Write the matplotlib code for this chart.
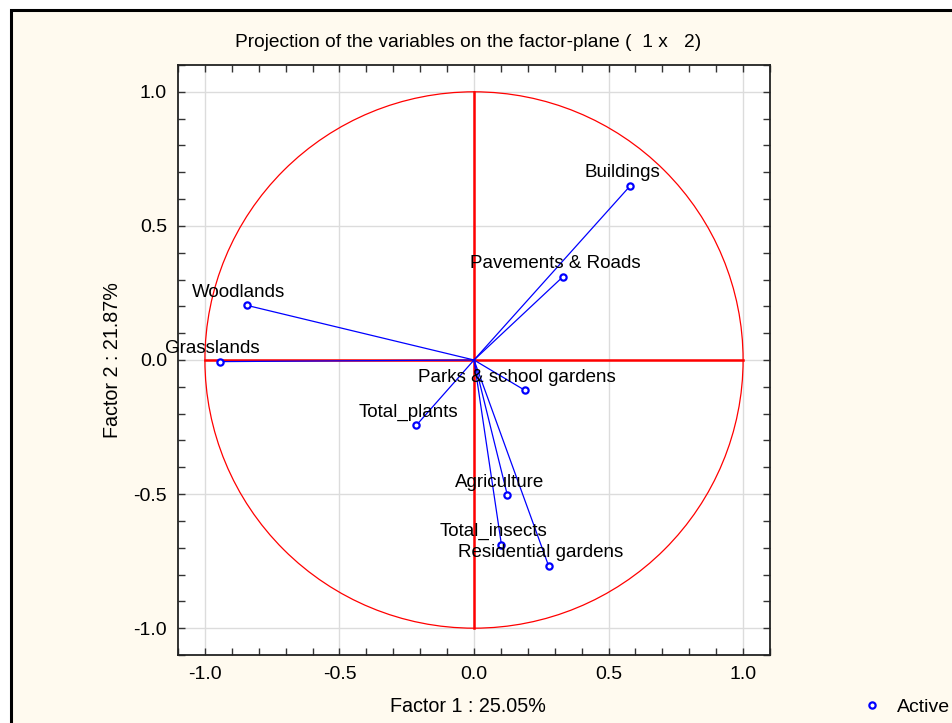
import numpy as np
import matplotlib
matplotlib.use('Agg')
import matplotlib.pyplot as plt
from matplotlib.patches import Rectangle, Circle
from matplotlib.ticker import MultipleLocator, FormatStrFormatter
from matplotlib.lines import Line2D

plt.rcParams['font.family'] = ['Liberation Sans', 'DejaVu Sans']
plt.rcParams['axes.unicode_minus'] = False

variables = ['Buildings', 'Pavements & Roads', 'Woodlands', 'Grasslands',
             'Parks & school gardens', 'Total_plants', 'Agriculture',
             'Total_insects', 'Residential gardens']
factor1 = [0.581, 0.331, -0.845, -0.943, 0.189, -0.214, 0.124, 0.102, 0.277]
factor2 = [0.650, 0.311, 0.204, -0.006, -0.113, -0.243, -0.504, -0.689, -0.767]

cream = '#fffaef'
fig = plt.figure(figsize=(9.53, 7.23), dpi=100, facecolor='white')
# framed cream background like the original window
fig.patches.append(Rectangle((10.5 / 953, -0.05), 1.1, 712.5 / 723 + 0.05,
                             transform=fig.transFigure, facecolor=cream,
                             edgecolor='black', lw=2.2, zorder=-10))

ax = fig.add_axes([178 / 953, 1 - 655 / 723, (770 - 178) / 953, (655 - 65) / 723])
ax.set_facecolor('white')
ax.set_xlim(-1.1, 1.1)
ax.set_ylim(-1.1, 1.1)

ax.xaxis.set_major_locator(MultipleLocator(0.5))
ax.yaxis.set_major_locator(MultipleLocator(0.5))
ax.xaxis.set_minor_locator(MultipleLocator(0.1))
ax.yaxis.set_minor_locator(MultipleLocator(0.1))
ax.xaxis.set_major_formatter(FormatStrFormatter('%.1f'))
ax.yaxis.set_major_formatter(FormatStrFormatter('%.1f'))
ax.tick_params(which='both', direction='in', top=True, right=True,
               length=5, width=1, labelsize=14, pad=8, color='#333333')
ax.grid(True, which='major', color='#dcdcdc', lw=1)
ax.set_axisbelow(True)
for s in ax.spines.values():
    s.set_linewidth(1.3)
    s.set_color('#222222')

# unit circle and red axes
ax.add_patch(Circle((0, 0), 1, fill=False, color='red', lw=0.9, zorder=2))
ax.plot([-1, 1], [0, 0], color='red', lw=1.8, zorder=2)
ax.plot([0, 0], [-1, 1], color='red', lw=1.8, zorder=2)

for name, x, y in zip(variables, factor1, factor2):
    ax.plot([0, x], [0, y], color='blue', lw=0.9, zorder=3)
    ax.annotate(name, (x, y), xytext=(-8, 13), textcoords='offset pixels',
                ha='center', va='center', fontsize=13.5, color='black', zorder=5)
ax.plot(factor1, factor2, 'o', ls='none', mfc='white', mec='blue',
        ms=4.5, mew=1.6, zorder=4)

ax.set_title('Projection of the variables on the factor-plane (  1 x   2)',
             fontsize=13.8, pad=13, x=0.49)
ax.set_xlabel('Factor 1 : 25.05%', fontsize=14.2, labelpad=10, x=0.49)
ax.set_ylabel('Factor 2 : 21.87%', fontsize=14.2, labelpad=8)

handle = Line2D([], [], marker='o', ls='none', mfc='white', mec='blue',
                ms=4.5, mew=1.6)
fig.legend([handle], ['Active'], loc='center', bbox_to_anchor=(906 / 953, 1 - 707 / 723),
           frameon=False, fontsize=14, handlelength=1, handletextpad=0.8)

fig.savefig('out.png', dpi=100, facecolor=fig.get_facecolor())
